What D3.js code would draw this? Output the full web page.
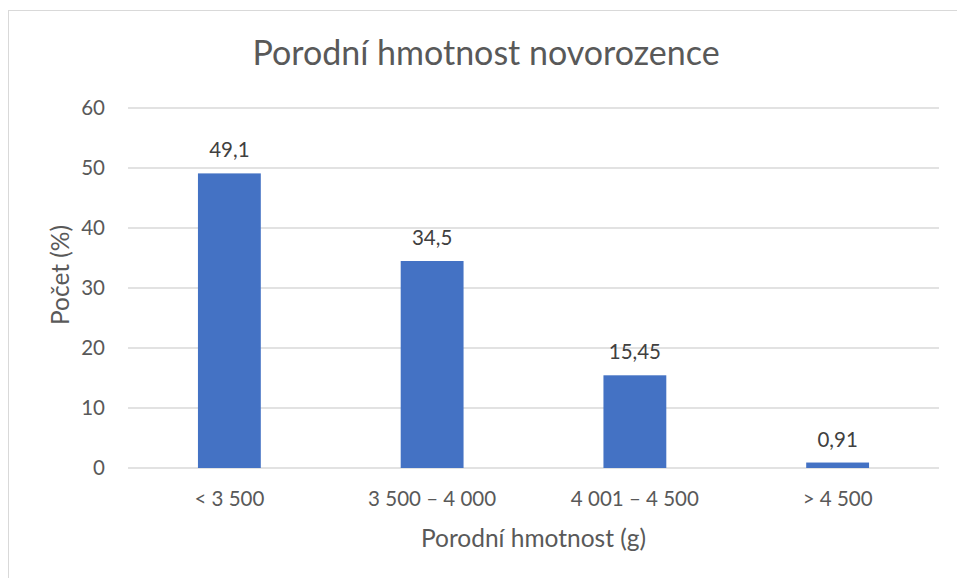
<!DOCTYPE html>
<html>
<head>
<meta charset="utf-8">
<script src="https://cdn.jsdelivr.net/npm/d3@7"></script>
<style>
  body { margin: 0; background: #fff; }
  text { font-family: Lato, "Open Sans", sans-serif; fill: #595959; }
</style>
</head>
<body>
<div id="plot"></div>
<script>
// chart data
const categories = ["< 3 500", "3 500 – 4 000", "4 001 – 4 500", "> 4 500"];
const values = [49.1, 34.5, 15.45, 0.91];
const valueLabels = ["49,1", "34,5", "15,45", "0,91"];
const yTicks = [0, 10, 20, 30, 40, 50, 60];

const w = 957;
const h = 578;
const margin = {top: 108, right: 18, bottom: 110, left: 128};
const innerWidth = w - margin.left - margin.right;
const innerHeight = h - margin.top - margin.bottom;

const svg = d3.select("#plot")
  .append("svg")
    .attr("width", w)
    .attr("height", h);

// chart frame
svg.append("rect")
    .attr("x", 8.5)
    .attr("y", 10.5)
    .attr("width", 980)
    .attr("height", 600)
    .attr("fill", "#fff")
    .attr("stroke", "#d9d9d9")
    .attr("stroke-width", 1);

const xScale = d3.scaleBand()
    .domain(categories)
    .range([0, innerWidth])
    .padding(0);

const yScale = d3.scaleLinear()
    .domain([0, 60])
    .range([innerHeight, 0]);

const g = svg.append("g")
    .attr("transform", `translate(${margin.left}, ${margin.top})`);

// gridlines
g.selectAll("line.grid")
  .data(yTicks)
  .enter().append("line")
    .attr("class", "grid")
    .attr("x1", 0)
    .attr("x2", innerWidth)
    .attr("y1", d => yScale(d))
    .attr("y2", d => yScale(d))
    .attr("stroke", "#d9d9d9")
    .attr("stroke-width", 1.3);

// y tick labels
g.selectAll("text.ytick")
  .data(yTicks)
  .enter().append("text")
    .attr("class", "ytick")
    .attr("x", -23)
    .attr("y", d => yScale(d))
    .attr("dy", "0.35em")
    .attr("text-anchor", "end")
    .style("font-size", "20.5px")
    .text(d => d);

// bars
const barFrac = 0.31;
const bw = xScale.bandwidth();

g.selectAll("rect.bar")
  .data(values)
  .enter().append("rect")
    .attr("class", "bar")
    .attr("x", (d, i) => xScale(categories[i]) + bw * (1 - barFrac) / 2)
    .attr("y", d => yScale(d))
    .attr("width", bw * barFrac)
    .attr("height", d => innerHeight - yScale(d))
    .attr("fill", "#4472c4");

// value labels
g.selectAll("text.vlabel")
  .data(values)
  .enter().append("text")
    .attr("class", "vlabel")
    .attr("x", (d, i) => xScale(categories[i]) + bw / 2)
    .attr("y", d => yScale(d) - 16)
    .attr("text-anchor", "middle")
    .style("font-size", "20.5px")
    .style("fill", "#404040")
    .text((d, i) => valueLabels[i]);

// x tick labels
g.selectAll("text.xtick")
  .data(categories)
  .enter().append("text")
    .attr("class", "xtick")
    .attr("x", d => xScale(d) + bw / 2)
    .attr("y", innerHeight + 38)
    .attr("text-anchor", "middle")
    .style("font-size", "20.5px")
    .text(d => d);

// titles
svg.append("text")
    .attr("x", 486)
    .attr("y", 65)
    .attr("text-anchor", "middle")
    .style("font-size", "34px")
    .text("Porodní hmotnost novorozence");

svg.append("text")
    .attr("x", margin.left + innerWidth / 2)
    .attr("y", 547)
    .attr("text-anchor", "middle")
    .style("font-size", "24.5px")
    .text("Porodní hmotnost (g)");

svg.append("text")
    .attr("transform", `translate(69, ${margin.top + innerHeight / 2 - 13}) rotate(-90)`)
    .attr("text-anchor", "middle")
    .style("font-size", "24.5px")
    .text("Počet (%)");
</script>
</body>
</html>
